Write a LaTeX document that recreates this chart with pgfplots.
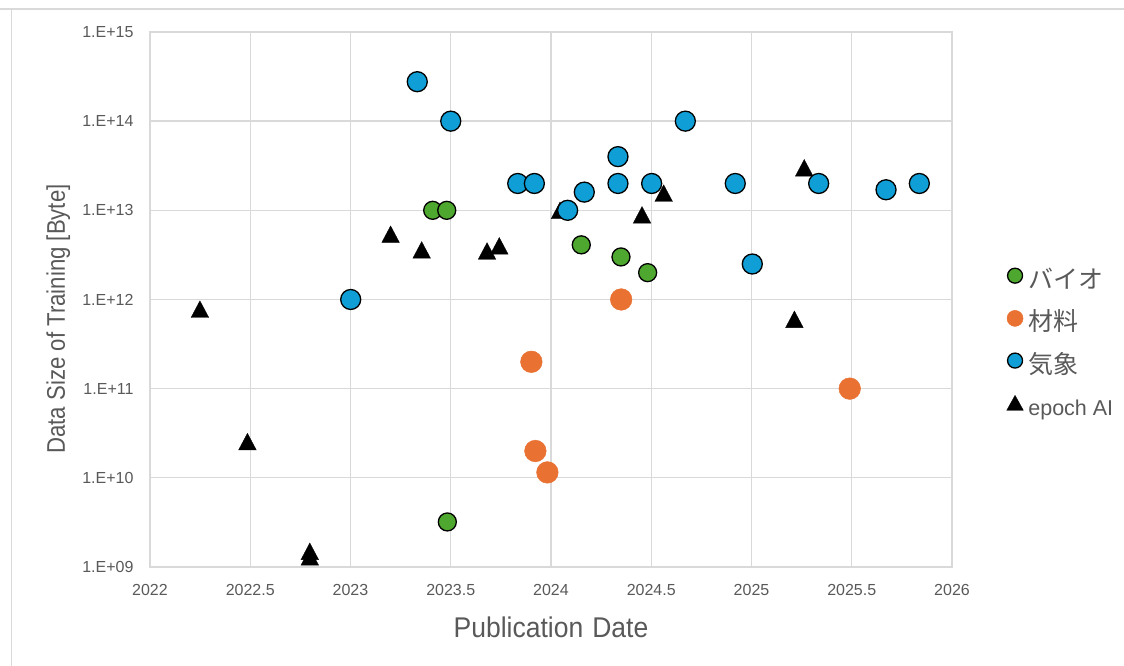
\documentclass[border=0pt]{standalone}
\usepackage{fontspec}
\setmainfont{Liberation Sans}
\newfontfamily\titlefont{Liberation Sans}[FakeStretch=0.87]
\newfontfamily\xtitlefont{Liberation Sans}[FakeStretch=0.93]
\newfontfamily\cjk{Noto Sans CJK JP}
\usepackage{pgfplots}
\pgfplotsset{compat=1.18}
\definecolor{gridgray}{HTML}{D9D9D9}
\definecolor{textgray}{HTML}{595959}
\definecolor{biogreen}{HTML}{4EA72E}
\definecolor{matorange}{HTML}{E97132}
\definecolor{wxblue}{HTML}{0F9ED5}
\begin{document}
\begin{tikzpicture}
\useasboundingbox (0pt,0pt) rectangle (1124pt,666pt);
\draw[gridgray, line width=1.5pt] (0pt,657pt) -- (1124pt,657pt);
\draw[gridgray, line width=1.5pt] (11.5pt,0pt) -- (11.5pt,657pt);
\begin{axis}[
  at={(150pt,99pt)}, anchor=south west,
  scale only axis, width=802pt, height=535pt,
  xmin=2022, xmax=2026, ymode=log, ymin=1e9, ymax=1e15,
  xtick={2022,2022.5,2023,2023.5,2024,2024.5,2025,2025.5,2026},
  xticklabels={2022,2022.5,2023,2023.5,2024,2024.5,2025,2025.5,2026},
  ytick={1e9,1e10,1e11,1e12,1e13,1e14,1e15},
  yticklabels={1.E+09,1.E+10,1.E+11,1.E+12,1.E+13,1.E+14,1.E+15},
  yminorticks=false,
  major tick length=0pt,
  grid=major,
  major grid style={gridgray, line width=1.3pt},
  axis line style={gridgray, line width=1.3pt},
  ticklabel style={font=\fontsize{16}{19}\selectfont, text=textgray},
  yticklabel style={xshift=-13pt},
  xticklabel style={yshift=-13.7pt},
  xlabel={Publication\hspace{9pt}Date},
  ylabel={Data Size of Training [Byte]},
  every axis x label/.style={at={(axis description cs:0.5,0)}, anchor=base, yshift=-70.7pt, font=\xtitlefont\fontsize{28.5}{32}\selectfont, text=textgray},
  every axis y label/.style={at={(axis description cs:-0.106,0.4636)}, rotate=90, anchor=base, font=\titlefont\fontsize{25.5}{30}\selectfont, text=textgray},
  clip=false,
  legend style={at={(axis description cs:1.068,0.5589)}, anchor=north west, draw=none, fill=none, inner sep=0pt,
    font=\fontsize{21.5}{25}\selectfont, text=textgray,
    nodes={inner sep=0pt, text height=16pt, text depth=5pt},
    row sep=17.2pt, column sep=5pt},
  legend cell align=left,
  legend image code/.code={\draw[#1] plot coordinates {(8pt,7pt)};},
]
% legend images
\addlegendimage{only marks, mark=*, mark size=7.5pt, draw=black, fill=biogreen, line width=1.3pt}
\addlegendentry{{\cjk\fontsize{25}{29}\selectfont バイオ}}
\addlegendimage{only marks, mark=*, mark size=8pt, draw=matorange, fill=matorange, line width=0.5pt}
\addlegendentry{{\cjk\fontsize{25}{29}\selectfont 材料}}
\addlegendimage{only marks, mark=*, mark size=7.5pt, draw=black, fill=wxblue, line width=1.3pt}
\addlegendentry{{\cjk\fontsize{25}{29}\selectfont 気象}}
\addlegendimage{only marks, mark=triangle*, mark size=9.6pt, draw=black, fill=black, line width=0.3pt, mark options={yshift=-2.5pt, yscale=1.04}}
\addlegendentry{epoch AI}
% epoch AI
\addplot[forget plot, only marks, mark=triangle*, mark size=10.2pt, draw=black, fill=black, line width=0.3pt, mark options={yshift=-2.8pt, yscale=1.09}] coordinates {
(2022.249,7.8e11) (2022.486,2.55e10) (2022.797,1.5e9) (2022.797,1.3e9)
(2023.200,5.4e12) (2023.355,3.6e12) (2023.681,3.5e12) (2023.742,4.0e12)
(2024.045,1.0e13) (2024.454,8.9e12) (2024.562,1.56e13)
(2025.214,6.0e11) (2025.263,3.0e13)
};
% bio
\addplot[forget plot, only marks, mark=*, mark size=9pt, draw=black, fill=biogreen, line width=1.3pt] coordinates {
(2023.410,1e13) (2023.480,1e13) (2023.483,3.2e9) (2024.151,4.1e12) (2024.349,3.0e12) (2024.482,2.0e12)
};
% materials
\addplot[forget plot, only marks, mark=*, mark size=10.8pt, draw=matorange, fill=matorange, line width=0.5pt] coordinates {
(2023.902,2.0e11) (2023.922,2.0e10) (2023.982,1.15e10) (2024.350,1e12) (2025.490,1e11)
};
% weather
\addplot[forget plot, only marks, mark=*, mark size=10pt, draw=black, fill=wxblue, line width=1.3pt] coordinates {
(2023.001,1e12) (2023.333,2.77e14) (2023.500,1e14) (2023.834,2e13) (2023.917,2e13)
(2024.083,1e13) (2024.166,1.6e13) (2024.334,4e13) (2024.334,2e13) (2024.502,2e13)
(2024.670,1e14) (2024.919,2e13) (2025.004,2.5e12) (2025.335,2e13) (2025.671,1.7e13)
(2025.837,2e13)
};
\end{axis}
\end{tikzpicture}
\end{document}
